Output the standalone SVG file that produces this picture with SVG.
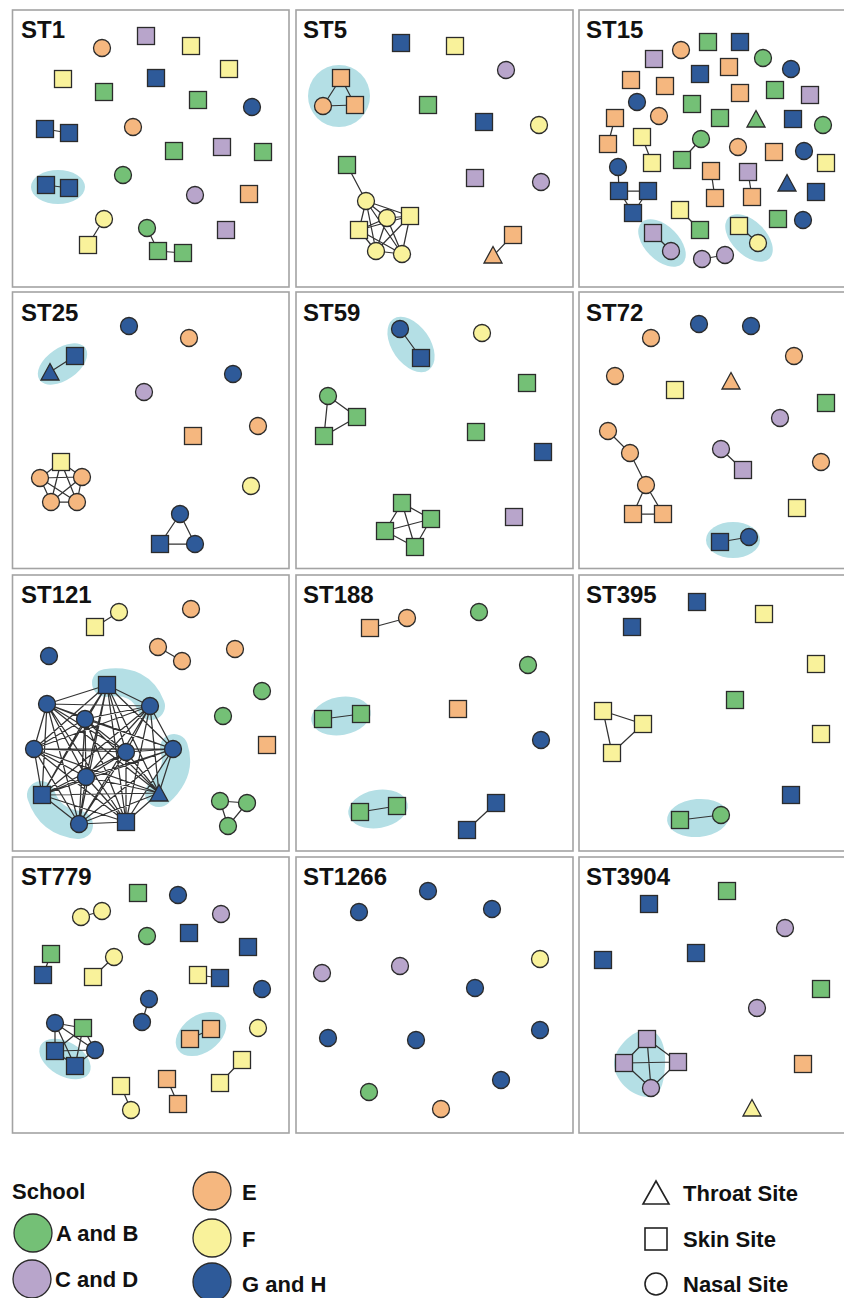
<svg xmlns="http://www.w3.org/2000/svg" width="844" height="1298" viewBox="0 0 844 1298">
<style>
.frame{fill:#fff;stroke:#a3a3a3;stroke-width:1.6}
.t{font-family:"Liberation Sans",Arial,sans-serif;font-weight:bold;font-size:24px;fill:#111}
.lt{font-family:"Liberation Sans",Arial,sans-serif;font-weight:bold;font-size:22px;fill:#111}
use,.n{stroke:#2b2b2b;stroke-width:1.3}
.g{fill:#74c076}.p{fill:#b8a5cb}.y{fill:#f9f29b}.o{fill:#f5b77f}.b{fill:#2e5a99}
.hl{fill:#b4dfe5}
.hlb{fill:none;stroke:#b4dfe5;stroke-width:28;stroke-linecap:round}
.e{fill:none;stroke:#333;stroke-width:1.25}
.open{fill:#fff;stroke:#222;stroke-width:1.6}
</style>
<defs>
<rect id="s" x="-8.5" y="-8.5" width="17" height="17"/>
<circle id="c" r="8.5"/>
<path id="t" d="M0,-9.5L9,7H-9Z"/>
</defs>
<rect width="844" height="1298" fill="#fff"/>

<g id="ST1">
<rect class="frame" x="12.5" y="10" width="276.5" height="277"/>
<text class="t" x="21" y="38">ST1</text>
<ellipse class="hl" cx="58" cy="187" rx="27" ry="17"/>
<g id="ST1-connectors"><path class="e" d="M45,129L69,133M46,185L69,188M104,219L88,245M147,228L158,251M158,251L183,253"/></g>
<g id="ST1-nodes">
<use href="#c" class="o" x="102" y="48"/><use href="#s" class="p" x="146" y="36"/><use href="#s" class="y" x="191" y="46"/>
<use href="#s" class="y" x="229" y="69"/><use href="#s" class="y" x="63" y="79"/><use href="#s" class="g" x="104" y="92"/>
<use href="#s" class="b" x="156" y="78"/><use href="#s" class="g" x="198" y="100"/><use href="#c" class="b" x="252" y="107"/>
<use href="#s" class="b" x="45" y="129"/><use href="#s" class="b" x="69" y="133"/><use href="#c" class="o" x="133" y="127"/>
<use href="#s" class="g" x="174" y="151"/><use href="#s" class="p" x="222" y="147"/><use href="#s" class="g" x="263" y="152"/>
<use href="#s" class="b" x="46" y="185"/><use href="#s" class="b" x="69" y="188"/><use href="#c" class="g" x="123" y="175"/>
<use href="#c" class="p" x="195" y="195"/><use href="#s" class="o" x="249" y="194"/><use href="#c" class="y" x="104" y="219"/>
<use href="#s" class="y" x="88" y="245"/><use href="#c" class="g" x="147" y="228"/><use href="#s" class="g" x="158" y="251"/>
<use href="#s" class="g" x="183" y="253"/><use href="#s" class="p" x="226" y="230"/>
</g>
</g>

<g id="ST5">
<rect class="frame" x="296" y="10" width="277" height="277"/>
<text class="t" x="303" y="38">ST5</text>
<circle class="hl" cx="339" cy="96" r="31"/>
<g id="ST5-connectors"><path class="e" d="M341,78L323,106M341,78L355,105M323,106L355,105M347,165L366,201M513,235L493,256M366,201L387,218M366,201L410,216M366,201L359,230M366,201L376,251M366,201L402,254M387,218L410,216M387,218L359,230M387,218L376,251M387,218L402,254M410,216L359,230M410,216L376,251M410,216L402,254M359,230L376,251M359,230L402,254M376,251L402,254"/></g>
<g id="ST5-nodes">
<use href="#s" class="b" x="401" y="43"/><use href="#s" class="y" x="455" y="46"/><use href="#c" class="p" x="506" y="70"/>
<use href="#s" class="o" x="341" y="78"/><use href="#c" class="o" x="323" y="106"/><use href="#s" class="o" x="355" y="105"/>
<use href="#s" class="g" x="428" y="105"/><use href="#s" class="b" x="484" y="122"/><use href="#c" class="y" x="539" y="125"/>
<use href="#s" class="g" x="347" y="165"/><use href="#s" class="p" x="475" y="178"/><use href="#c" class="p" x="541" y="182"/>
<use href="#c" class="y" x="366" y="201"/><use href="#c" class="y" x="387" y="218"/><use href="#s" class="y" x="410" y="216"/>
<use href="#s" class="y" x="359" y="230"/><use href="#c" class="y" x="376" y="251"/><use href="#c" class="y" x="402" y="254"/>
<use href="#s" class="o" x="513" y="235"/><use href="#t" class="o" x="493" y="256"/>
</g>
</g>

<g id="ST15">
<rect class="frame" x="579" y="10" width="277" height="277"/>
<text class="t" x="586" y="38">ST15</text>
<ellipse class="hl" cx="662" cy="243" rx="29" ry="17" transform="rotate(45 662 243)"/>
<ellipse class="hl" cx="749" cy="238" rx="29" ry="17" transform="rotate(45 749 238)"/>
<g id="ST15-connectors"><path class="e" d="M615,118L608,144M642,137L652,163M701,139L682,160M618,167L619,191M619,191L648,191M619,191L633,213M648,191L633,213M711,171L715,198M748,172L752,197M680,210L700,230M653,233L671,251M739,226L758,243M702,259L725,255"/></g>
<g id="ST15-nodes">
<use href="#s" class="g" x="708" y="42"/><use href="#s" class="b" x="740" y="42"/><use href="#c" class="o" x="681" y="50"/>
<use href="#s" class="p" x="654" y="59"/><use href="#c" class="g" x="763" y="58"/><use href="#c" class="b" x="791" y="69"/>
<use href="#s" class="b" x="700" y="74"/><use href="#s" class="o" x="729" y="67"/><use href="#s" class="o" x="631" y="80"/>
<use href="#s" class="o" x="665" y="86"/><use href="#s" class="o" x="740" y="93"/><use href="#s" class="g" x="775" y="90"/>
<use href="#s" class="p" x="810" y="95"/><use href="#c" class="b" x="637" y="102"/><use href="#s" class="g" x="692" y="104"/>
<use href="#c" class="o" x="659" y="116"/><use href="#s" class="g" x="720" y="118"/><use href="#t" class="g" x="756" y="120"/>
<use href="#s" class="b" x="793" y="119"/><use href="#c" class="g" x="823" y="125"/><use href="#s" class="o" x="615" y="118"/>
<use href="#s" class="o" x="608" y="144"/><use href="#s" class="y" x="642" y="137"/><use href="#s" class="y" x="652" y="163"/>
<use href="#c" class="g" x="701" y="139"/><use href="#s" class="g" x="682" y="160"/><use href="#c" class="o" x="738" y="147"/>
<use href="#s" class="o" x="774" y="152"/><use href="#c" class="b" x="804" y="151"/><use href="#s" class="y" x="826" y="163"/>
<use href="#c" class="b" x="618" y="167"/><use href="#s" class="b" x="619" y="191"/><use href="#s" class="b" x="648" y="191"/>
<use href="#s" class="b" x="633" y="213"/><use href="#s" class="o" x="711" y="171"/><use href="#s" class="o" x="715" y="198"/>
<use href="#s" class="p" x="748" y="172"/><use href="#s" class="o" x="752" y="197"/><use href="#t" class="b" x="787" y="184"/>
<use href="#s" class="b" x="816" y="192"/><use href="#s" class="y" x="680" y="210"/><use href="#s" class="g" x="700" y="230"/>
<use href="#s" class="g" x="778" y="219"/><use href="#c" class="b" x="803" y="220"/><use href="#s" class="p" x="653" y="233"/>
<use href="#c" class="p" x="671" y="251"/><use href="#s" class="y" x="739" y="226"/><use href="#c" class="y" x="758" y="243"/>
<use href="#c" class="p" x="702" y="259"/><use href="#c" class="p" x="725" y="255"/>
</g>
</g>

<g id="ST25">
<rect class="frame" x="12.5" y="292" width="276.5" height="276.5"/>
<text class="t" x="21" y="321">ST25</text>
<ellipse class="hl" cx="62.5" cy="364" rx="28" ry="16" transform="rotate(-35 62.5 364)"/>
<g id="ST25-connectors"><path class="e" d="M75,356L50,372M61,462L40,478M61,462L82,477M61,462L51,502M61,462L77,502M40,478L82,477M40,478L51,502M40,478L77,502M82,477L51,502M82,477L77,502M51,502L77,502M180,514L160,544L195,544Z"/></g>
<g id="ST25-nodes">
<use href="#c" class="b" x="129" y="326"/><use href="#c" class="o" x="189" y="338"/><use href="#s" class="b" x="75" y="356"/>
<use href="#t" class="b" x="50" y="373"/><use href="#c" class="b" x="233" y="374"/><use href="#c" class="p" x="144" y="392"/>
<use href="#c" class="o" x="258" y="426"/><use href="#s" class="o" x="193" y="436"/><use href="#s" class="y" x="61" y="462"/>
<use href="#c" class="o" x="40" y="478"/><use href="#c" class="o" x="82" y="477"/><use href="#c" class="o" x="51" y="502"/>
<use href="#c" class="o" x="77" y="502"/><use href="#c" class="y" x="251" y="486"/><use href="#c" class="b" x="180" y="514"/>
<use href="#s" class="b" x="160" y="544"/><use href="#c" class="b" x="195" y="544"/>
</g>
</g>

<g id="ST59">
<rect class="frame" x="296" y="292" width="277" height="276.5"/>
<text class="t" x="303" y="321">ST59</text>
<ellipse class="hl" cx="411" cy="344.5" rx="31" ry="19" transform="rotate(55 411 344.5)"/>
<g id="ST59-connectors"><path class="e" d="M400,329L421,358M328,396L357,417L324,436ZM402,503L431,519M402,503L385,531M402,503L415,547M431,519L385,531M431,519L415,547M385,531L415,547"/></g>
<g id="ST59-nodes">
<use href="#c" class="b" x="400" y="329"/><use href="#s" class="b" x="421" y="358"/><use href="#c" class="y" x="482" y="333"/>
<use href="#s" class="g" x="527" y="383"/><use href="#c" class="g" x="328" y="396"/><use href="#s" class="g" x="357" y="417"/>
<use href="#s" class="g" x="324" y="436"/><use href="#s" class="g" x="476" y="432"/><use href="#s" class="b" x="543" y="452"/>
<use href="#s" class="g" x="402" y="503"/><use href="#s" class="g" x="431" y="519"/><use href="#s" class="g" x="385" y="531"/>
<use href="#s" class="g" x="415" y="547"/><use href="#s" class="p" x="514" y="517"/>
</g>
</g>

<g id="ST72">
<rect class="frame" x="579" y="292" width="277" height="276.5"/>
<text class="t" x="586" y="321">ST72</text>
<ellipse class="hl" cx="733" cy="540" rx="27" ry="18"/>
<g id="ST72-connectors"><path class="e" d="M608,431L630,453L646,485M646,485L633,514M646,485L663,514M633,514L663,514M721,449L743,470M720,542L749,537"/></g>
<g id="ST72-nodes">
<use href="#c" class="b" x="699" y="324"/><use href="#c" class="b" x="751" y="326"/><use href="#c" class="o" x="651" y="338"/>
<use href="#c" class="o" x="794" y="356"/><use href="#c" class="o" x="615" y="376"/><use href="#s" class="y" x="675" y="390"/>
<use href="#t" class="o" x="731" y="382"/><use href="#s" class="g" x="826" y="403"/><use href="#c" class="p" x="780" y="418"/>
<use href="#c" class="o" x="608" y="431"/><use href="#c" class="o" x="630" y="453"/><use href="#c" class="o" x="646" y="485"/>
<use href="#s" class="o" x="633" y="514"/><use href="#s" class="o" x="663" y="514"/><use href="#c" class="p" x="721" y="449"/>
<use href="#s" class="p" x="743" y="470"/><use href="#c" class="o" x="821" y="462"/><use href="#s" class="y" x="797" y="508"/>
<use href="#s" class="b" x="720" y="542"/><use href="#c" class="b" x="749" y="537"/>
</g>
</g>

<g id="ST121">
<rect class="frame" x="12.5" y="575" width="276.5" height="276"/>
<text class="t" x="21" y="603">ST121</text>
<path class="hlb" d="M106,683Q140,678 151,706"/>
<path class="hlb" d="M174,748Q182,772 159,793"/>
<path class="hlb" d="M41,795Q50,822 79,825"/>
<g id="ST121-connectors"><path class="e" d="M95,627L119,612M158,647L182,661M220,801L247,803L228,826Z
M107,685L47,704M107,685L150,706M107,685L85,719M107,685L34,749M107,685L126,752M107,685L173,749M107,685L86,777M107,685L42,795M107,685L159,793M107,685L79,824M107,685L126,822
M47,704L150,706M47,704L85,719M47,704L34,749M47,704L126,752M47,704L173,749M47,704L86,777M47,704L42,795M47,704L159,793M47,704L79,824M47,704L126,822
M150,706L85,719M150,706L34,749M150,706L126,752M150,706L173,749M150,706L86,777M150,706L42,795M150,706L159,793M150,706L79,824M150,706L126,822
M85,719L34,749M85,719L126,752M85,719L173,749M85,719L86,777M85,719L42,795M85,719L159,793M85,719L79,824M85,719L126,822
M34,749L126,752M34,749L173,749M34,749L86,777M34,749L42,795M34,749L159,793M34,749L79,824M34,749L126,822
M126,752L173,749M126,752L86,777M126,752L42,795M126,752L159,793M126,752L79,824M126,752L126,822
M173,749L86,777M173,749L42,795M173,749L159,793M173,749L79,824M173,749L126,822
M86,777L42,795M86,777L159,793M86,777L79,824M86,777L126,822
M42,795L159,793M42,795L79,824M42,795L126,822
M159,793L79,824M159,793L126,822M79,824L126,822"/></g>
<g id="ST121-nodes">
<use href="#s" class="y" x="95" y="627"/><use href="#c" class="y" x="119" y="612"/><use href="#c" class="o" x="191" y="609"/>
<use href="#c" class="o" x="158" y="647"/><use href="#c" class="o" x="182" y="661"/><use href="#c" class="o" x="235" y="649"/>
<use href="#c" class="b" x="49" y="656"/><use href="#c" class="g" x="262" y="691"/><use href="#c" class="g" x="223" y="716"/>
<use href="#s" class="o" x="267" y="745"/><use href="#c" class="g" x="220" y="801"/><use href="#c" class="g" x="247" y="803"/>
<use href="#c" class="g" x="228" y="826"/>
<use href="#s" class="b" x="107" y="685"/><use href="#c" class="b" x="47" y="704"/><use href="#c" class="b" x="150" y="706"/>
<use href="#c" class="b" x="85" y="719"/><use href="#c" class="b" x="34" y="749"/><use href="#c" class="b" x="126" y="752"/>
<use href="#c" class="b" x="173" y="749"/><use href="#c" class="b" x="86" y="777"/><use href="#s" class="b" x="42" y="795"/>
<use href="#t" class="b" x="159" y="794"/><use href="#c" class="b" x="79" y="824"/><use href="#s" class="b" x="126" y="822"/>
</g>
</g>

<g id="ST188">
<rect class="frame" x="296" y="575" width="277" height="276"/>
<text class="t" x="303" y="603">ST188</text>
<ellipse class="hl" cx="341" cy="716" rx="30" ry="19" transform="rotate(-10 341 716)"/>
<ellipse class="hl" cx="378" cy="809" rx="30" ry="19" transform="rotate(-10 378 809)"/>
<g id="ST188-connectors"><path class="e" d="M370,628L407,618M323,719L361,714M360,812L397,806M496,803L467,830"/></g>
<g id="ST188-nodes">
<use href="#s" class="o" x="370" y="628"/><use href="#c" class="o" x="407" y="618"/><use href="#c" class="g" x="479" y="612"/>
<use href="#c" class="g" x="528" y="665"/><use href="#s" class="g" x="323" y="719"/><use href="#s" class="g" x="361" y="714"/>
<use href="#s" class="o" x="458" y="709"/><use href="#c" class="b" x="541" y="740"/><use href="#s" class="g" x="360" y="812"/>
<use href="#s" class="g" x="397" y="806"/><use href="#s" class="b" x="496" y="803"/><use href="#s" class="b" x="467" y="830"/>
</g>
</g>

<g id="ST395">
<rect class="frame" x="579" y="575" width="277" height="276"/>
<text class="t" x="586" y="603">ST395</text>
<ellipse class="hl" cx="698" cy="818" rx="31" ry="19" transform="rotate(-5 698 818)"/>
<g id="ST395-connectors"><path class="e" d="M603,711L643,724L612,753ZM680,820L721,815"/></g>
<g id="ST395-nodes">
<use href="#s" class="b" x="697" y="602"/><use href="#s" class="b" x="632" y="627"/><use href="#s" class="y" x="764" y="614"/>
<use href="#s" class="y" x="816" y="664"/><use href="#s" class="g" x="735" y="700"/><use href="#s" class="y" x="603" y="711"/>
<use href="#s" class="y" x="643" y="724"/><use href="#s" class="y" x="612" y="753"/><use href="#s" class="y" x="821" y="734"/>
<use href="#s" class="b" x="791" y="795"/><use href="#s" class="g" x="680" y="820"/><use href="#c" class="g" x="721" y="815"/>
</g>
</g>

<g id="ST779">
<rect class="frame" x="12.5" y="857" width="276.5" height="276"/>
<text class="t" x="21" y="885">ST779</text>
<ellipse class="hl" cx="65" cy="1059" rx="28" ry="17" transform="rotate(30 65 1059)"/>
<ellipse class="hl" cx="201" cy="1034" rx="28" ry="18.5" transform="rotate(-35 201 1034)"/>
<g id="ST779-connectors"><path class="e" d="M81,917L102,911M51,954L43,975M114,957L93,977M198,975L220,978M149,999L142,1022M190,1039L211,1029M242,1060L220,1083M121,1086L131,1110M167,1079L178,1104M55,1023L83,1028M55,1023L55,1051M55,1023L95,1050M55,1023L75,1066M83,1028L55,1051M83,1028L95,1050M83,1028L75,1066M55,1051L95,1050M55,1051L75,1066M95,1050L75,1066"/></g>
<g id="ST779-nodes">
<use href="#s" class="g" x="138" y="893"/><use href="#c" class="b" x="178" y="895"/><use href="#c" class="y" x="81" y="917"/>
<use href="#c" class="y" x="102" y="911"/><use href="#c" class="p" x="221" y="914"/><use href="#c" class="g" x="147" y="936"/>
<use href="#s" class="b" x="189" y="933"/><use href="#s" class="b" x="248" y="947"/><use href="#s" class="g" x="51" y="954"/>
<use href="#s" class="b" x="43" y="975"/><use href="#c" class="y" x="114" y="957"/><use href="#s" class="y" x="93" y="977"/>
<use href="#s" class="y" x="198" y="975"/><use href="#s" class="b" x="220" y="978"/><use href="#c" class="b" x="262" y="989"/>
<use href="#c" class="b" x="149" y="999"/><use href="#c" class="b" x="142" y="1022"/><use href="#c" class="b" x="55" y="1023"/>
<use href="#s" class="g" x="83" y="1028"/><use href="#s" class="b" x="55" y="1051"/><use href="#c" class="b" x="95" y="1050"/>
<use href="#s" class="b" x="75" y="1066"/><use href="#s" class="o" x="190" y="1039"/><use href="#s" class="o" x="211" y="1029"/>
<use href="#c" class="y" x="258" y="1028"/><use href="#s" class="y" x="242" y="1060"/><use href="#s" class="y" x="220" y="1083"/>
<use href="#s" class="y" x="121" y="1086"/><use href="#c" class="y" x="131" y="1110"/><use href="#s" class="o" x="167" y="1079"/>
<use href="#s" class="o" x="178" y="1104"/>
</g>
</g>

<g id="ST1266">
<rect class="frame" x="296" y="857" width="277" height="276"/>
<text class="t" x="303" y="885">ST1266</text>
<g id="ST1266-nodes">
<use href="#c" class="b" x="428" y="891"/><use href="#c" class="b" x="359" y="912"/><use href="#c" class="b" x="492" y="909"/>
<use href="#c" class="y" x="540" y="959"/><use href="#c" class="p" x="400" y="966"/><use href="#c" class="p" x="322" y="973"/>
<use href="#c" class="b" x="475" y="988"/><use href="#c" class="b" x="328" y="1038"/><use href="#c" class="b" x="416" y="1040"/>
<use href="#c" class="b" x="540" y="1030"/><use href="#c" class="b" x="501" y="1080"/><use href="#c" class="g" x="369" y="1092"/>
<use href="#c" class="o" x="441" y="1109"/>
</g>
</g>

<g id="ST3904">
<rect class="frame" x="579" y="857" width="277" height="276"/>
<text class="t" x="586" y="885">ST3904</text>
<path class="hl" d="M646,1030C660,1030 666,1045 665,1065C664,1085 660,1097 648,1097C632,1097 613,1080 614,1062C615,1048 632,1030 646,1030Z"/>
<g id="ST3904-connectors"><path class="e" d="M647,1039L624,1063M647,1039L678,1062M647,1039L651,1088M624,1063L678,1062M624,1063L651,1088M678,1062L651,1088"/></g>
<g id="ST3904-nodes">
<use href="#s" class="g" x="727" y="891"/><use href="#s" class="b" x="649" y="904"/><use href="#c" class="p" x="785" y="928"/>
<use href="#s" class="b" x="696" y="953"/><use href="#s" class="b" x="603" y="960"/><use href="#s" class="g" x="821" y="989"/>
<use href="#c" class="p" x="757" y="1008"/><use href="#s" class="p" x="647" y="1039"/><use href="#s" class="p" x="624" y="1063"/>
<use href="#s" class="p" x="678" y="1062"/><use href="#c" class="p" x="651" y="1088"/><use href="#s" class="o" x="803" y="1064"/>
<use href="#t" class="y" x="752" y="1109"/>
</g>
</g>

<g id="legend">
<text class="lt" x="12" y="1199">School</text>
<circle class="n g" cx="33" cy="1233" r="19"/><text class="lt" x="56" y="1241">A and B</text>
<circle class="n p" cx="32" cy="1279" r="19"/><text class="lt" x="55" y="1287">C and D</text>
<circle class="n o" cx="212" cy="1191" r="19"/><text class="lt" x="242" y="1200">E</text>
<circle class="n y" cx="212" cy="1238" r="19"/><text class="lt" x="242" y="1247">F</text>
<circle class="n b" cx="212" cy="1282" r="19"/><text class="lt" x="242" y="1292">G and H</text>
<path class="open" d="M656,1181L669,1204H643Z"/><text class="lt" x="683" y="1201">Throat Site</text>
<rect class="open" x="645" y="1228" width="22" height="22"/><text class="lt" x="683" y="1247">Skin Site</text>
<circle class="open" cx="656" cy="1284" r="11"/><text class="lt" x="683" y="1292">Nasal Site</text>
</g>
</svg>
